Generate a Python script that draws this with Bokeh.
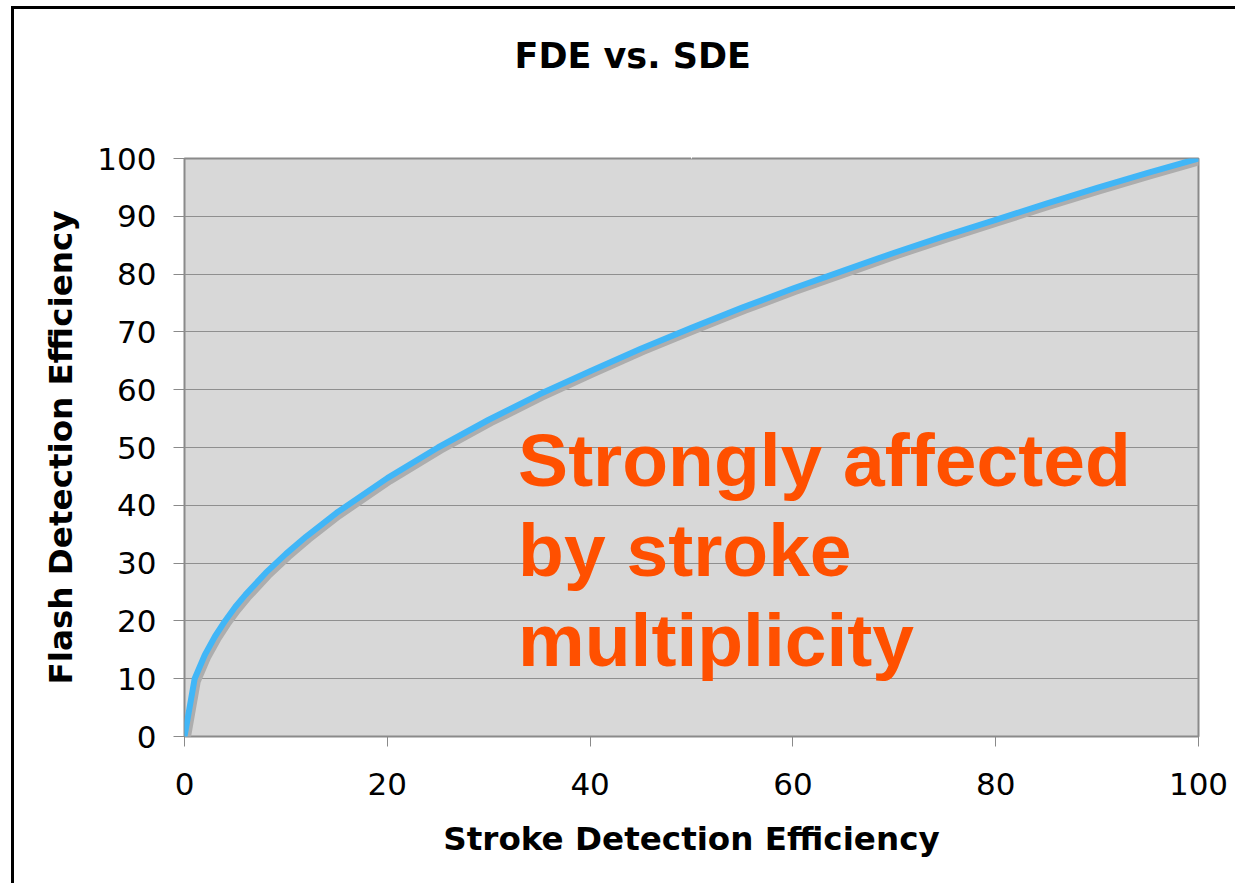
from bokeh.plotting import figure
from bokeh.models import FixedTicker, Label, ColumnDataSource, LinearAxis
from bokeh.transform import dodge
from bokeh.embed import file_html
from bokeh.resources import INLINE

# ---- data ----
sde = [0, 1, 2, 3, 4, 5, 6, 8, 10, 12, 15, 20, 25, 30, 35, 40, 45, 50,
       55, 60, 65, 70, 75, 80, 85, 90, 95, 100]
fde = [0, 10, 14.1, 17.3, 20, 22.4, 24.5, 28.3, 31.6, 34.6, 38.7, 44.7, 50,
       54.8, 59.2, 63.2, 67.1, 70.7, 74.2, 77.5, 80.6, 83.7, 86.6, 89.4,
       92.2, 94.9, 97.5, 100]
x_ticks = [0, 20, 40, 60, 80, 100]
y_ticks = [0, 10, 20, 30, 40, 50, 60, 70, 80, 90, 100]
title_text = "FDE vs. SDE"
x_label = "Stroke Detection Efficiency"
y_label = "Flash Detection Efficiency"
note_lines = ["Strongly affected", "by stroke", "multiplicity"]

src = ColumnDataSource(dict(sde=sde, fde=fde))

p = figure(width=1224, height=877, x_range=(0, 100), y_range=(0, 100),
           output_backend="svg", toolbar_location=None,
           min_border_left=170, min_border_right=40,
           min_border_top=149, min_border_bottom=150,
           title=title_text)

p.styles = {"border-left": "3px solid black", "border-top": "3px solid black",
            "margin-left": "11px", "margin-top": "6px"}

p.background_fill_color = "#d8d8d8"
p.border_fill_color = "white"
p.outline_line_color = "#8a8a8a"
p.outline_line_width = 2

p.xgrid.visible = False
p.ygrid.ticker = FixedTicker(ticks=y_ticks)
p.ygrid.grid_line_color = "#8f8f8f"
p.ygrid.grid_line_width = 1.2

xa = p.below[0]
ya = p.left[0]

# axes
for ax in (xa, ya):
    ax.axis_line_color = None
    ax.major_tick_line_color = "#8a8a8a"
    ax.major_tick_line_width = 1
    ax.major_tick_in = 0
    ax.minor_tick_line_color = None
    ax.major_label_text_font = "DejaVu Sans"
    ax.major_label_text_font_size = "31px"
    ax.major_label_text_color = "black"
    ax.axis_label_text_font = "DejaVu Sans"
    ax.axis_label_text_font_style = "bold"
    ax.axis_label_text_font_size = "32.6px"
    ax.axis_label_text_color = "black"

xa.ticker = FixedTicker(ticks=x_ticks)
ya.ticker = FixedTicker(ticks=y_ticks)
xa.major_tick_out = 10
ya.major_tick_out = 11
xa.major_label_standoff = 26
ya.major_label_standoff = 17
xa.axis_label = x_label
ya.axis_label = y_label
xa.axis_label_standoff = 22
ya.axis_label_standoff = 14

# blank spacer axis above the frame (white tick on white, empty label),
# so that the title sits higher above the plot area
spacer = LinearAxis(ticker=FixedTicker(ticks=[50]), axis_line_color=None,
                    major_tick_line_color="white", minor_tick_line_color=None,
                    major_tick_out=78, major_tick_in=0, minor_tick_out=0,
                    minor_tick_in=0, major_label_standoff=0,
                    major_label_text_font_size="1px",
                    major_label_overrides={50: ""})
p.add_layout(spacer, "above")

# title
p.title.text_font = "DejaVu Sans"
p.title.text_font_style = "bold"
p.title.text_font_size = "35px"
p.title.text_color = "black"
p.title.align = "left"
p.title.offset = 330
p.title.vertical_align = "bottom"
p.title.standoff = 10

# shadow + curve
p.line(x=dodge("sde", 0.3), y=dodge("fde", -0.55), source=src,
       line_color="#adadad", line_width=6, line_join="round")
p.line(x="sde", y="fde", source=src, line_color="#41b6f7", line_width=6,
       line_join="round", line_cap="round")

# annotation text
for i, t in enumerate(note_lines):
    p.add_layout(Label(x=32.9, y=47.9 - i * 15.57, text=t,
                       text_font="Liberation Sans", text_font_style="bold",
                       text_font_size="75px", text_color="#ff5000",
                       text_align="left", text_baseline="alphabetic"))

open("out.html", "w").write(file_html(p, INLINE))
